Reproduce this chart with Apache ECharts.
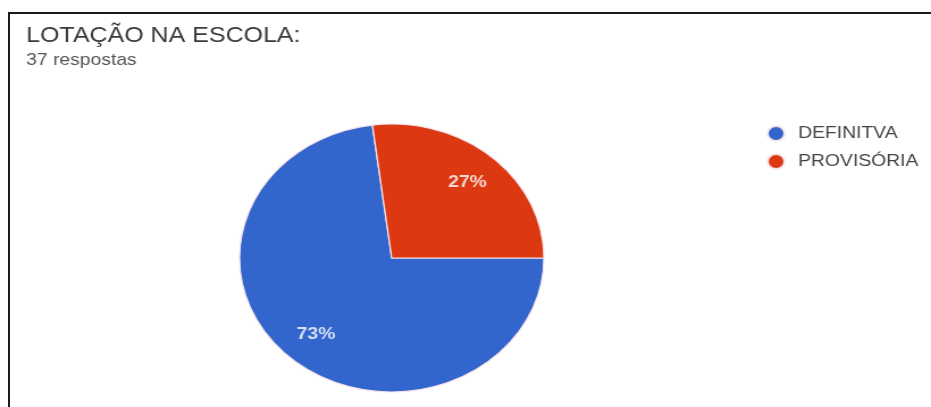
<!DOCTYPE html>
<html>
<head>
<meta charset="utf-8">
<script src="https://cdn.jsdelivr.net/npm/echarts@6/dist/echarts.min.js"></script>
<style>
  html, body { margin: 0; padding: 0; background: #fff; overflow: hidden; }
  #frame {
    position: absolute; left: 8px; top: 12px; width: 923px; height: 395px;
    border-left: 2px solid #1a1a1a; border-top: 2px solid #1a1a1a;
    box-sizing: border-box;
  }
  #chart {
    position: absolute; left: 0; top: 0; width: 820px; height: 407px;
    transform: scaleX(1.1354); transform-origin: 0 0;
  }
</style>
</head>
<body>
<div id="frame"></div>
<div id="chart"></div>
<script>
// Survey answers: "LOTAÇÃO NA ESCOLA"
const titleText = 'LOTAÇÃO NA ESCOLA:';
const responseCount = 37;
const categories = ['DEFINITVA', 'PROVISÓRIA'];
const counts = [27, 10];
const sliceColors = ['#3366cc', '#dc3912'];

const pieData = categories.map((name, i) => ({
  name: name,
  value: counts[i],
  itemStyle: { color: sliceColors[i] }
}));

const chart = echarts.init(document.getElementById('chart'), null, { renderer: 'canvas' });

chart.setOption({
  animation: false,
  title: {
    text: titleText,
    subtext: responseCount + ' respostas',
    left: 18,
    top: 20,
    itemGap: 5,
    textStyle: { fontFamily: 'Liberation Sans', fontSize: 22, fontWeight: 'normal', color: '#3a3a3a' },
    subtextStyle: { fontFamily: 'Liberation Sans', fontSize: 17, color: '#555' }
  },
  legend: {
    orient: 'vertical',
    left: 670,
    top: 120,
    icon: 'circle',
    itemWidth: 29,
    itemHeight: 15,
    itemGap: 11,
    data: categories,
    textStyle: { fontFamily: 'Liberation Sans', fontSize: 17, lineHeight: 16, color: '#444' }
  },
  series: [
    {
      // visible pie
      type: 'pie',
      center: [345, 258],
      radius: [0, 134],
      startAngle: 0,
      clockwise: true,
      silent: true,
      label: { show: false },
      labelLine: { show: false },
      itemStyle: { borderColor: '#f6e4ea', borderWidth: 1.2 },
      data: pieData
    },
    {
      // percentage labels placed further out along each slice
      type: 'pie',
      center: [345, 258],
      radius: [62, 134],
      startAngle: 0,
      clockwise: true,
      silent: true,
      itemStyle: { color: 'rgba(0,0,0,0)', borderWidth: 0 },
      label: {
        show: true,
        position: 'inside',
        formatter: p => Math.round(p.percent) + '%',
        fontFamily: 'Liberation Sans',
        fontSize: 17,
        fontWeight: 'bold',
        color: 'rgba(255,255,255,0.8)'
      },
      labelLine: { show: false },
      data: categories.map((name, i) => ({ name: name, value: counts[i] }))
    }
  ]
});
</script>
</body>
</html>
